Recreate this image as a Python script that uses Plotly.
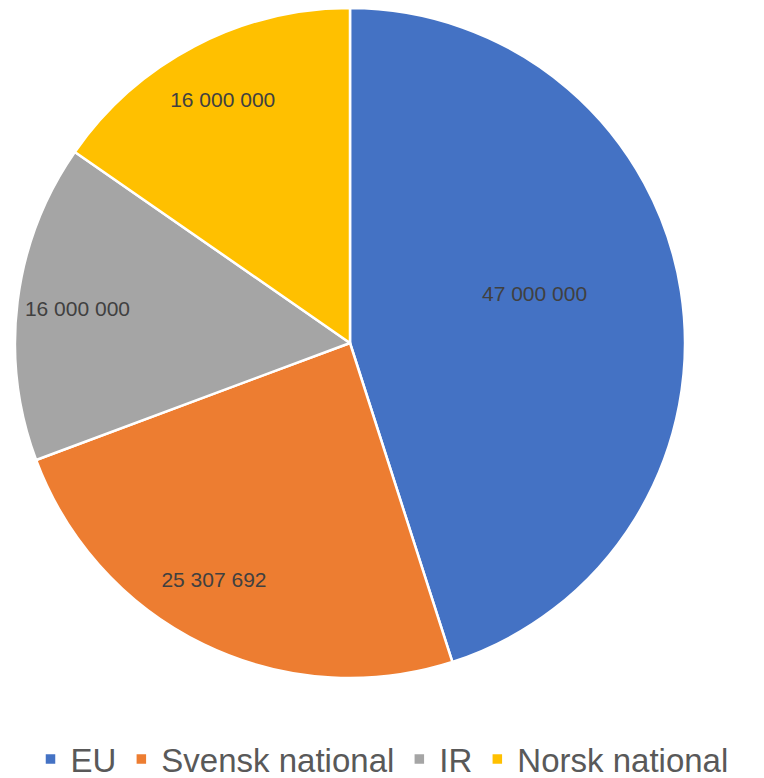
import plotly.graph_objects as go

labels = ["EU", "Svensk national", "IR", "Norsk national"]
values = [47000000, 25307692, 16000000, 16000000]
colors = ["#4472C4", "#ED7D31", "#A5A5A5", "#FFC000"]

W, H = 764, 778
cx, cy, r = 350, 343, 335
dom = dict(x=[(cx - r) / W, (cx + r) / W], y=[1 - (cy + r) / H, 1 - (cy - r) / H])
lab_font = dict(family="Liberation Sans, Arial", size=21, color="#404040")
clear = dict(colors=["rgba(0,0,0,0)"] * 4, line=dict(width=0))

fig = go.Figure()
# main pie (no text)
fig.add_trace(go.Pie(
    labels=labels, values=values, sort=False, direction="clockwise", rotation=0,
    marker=dict(colors=colors, line=dict(color="white", width=2.5)),
    textinfo="none", hoverinfo="label+value", domain=dom,
))


def label_layer(show, hole, rot):
    tt = ["%{value:,.0f}" if s else "" for s in show]
    return go.Pie(
        labels=labels, values=values, sort=False, direction="clockwise", rotation=rot,
        hole=hole, marker=clear, texttemplate=tt,
        textposition="inside", insidetextorientation="horizontal",
        textfont=lab_font, hoverinfo="skip", showlegend=False, domain=dom,
    )


fig.add_trace(label_layer([False, False, True, True], 0.64, 0))   # IR, Norsk
fig.add_trace(label_layer([False, True, False, False], 0.63, 4))   # Svensk
fig.add_trace(label_layer([True, False, False, False], 0.14, -6))  # EU

fig.update_layout(
    width=W, height=H,
    margin=dict(l=0, r=0, t=0, b=0, autoexpand=False),
    paper_bgcolor="white",
    separators=". ",
    showlegend=True,
    legend=dict(
        orientation="h", x=0.5, xanchor="center", y=1 - 759 / H, yanchor="middle",
        font=dict(family="Liberation Sans, Arial", size=33, color="#595959"),
        itemwidth=30, tracegroupgap=0,
    ),
)

fig.write_html("out.html", config={"displayModeBar": False},
               post_script="document.body.style.margin='0';document.body.style.padding='0';")
